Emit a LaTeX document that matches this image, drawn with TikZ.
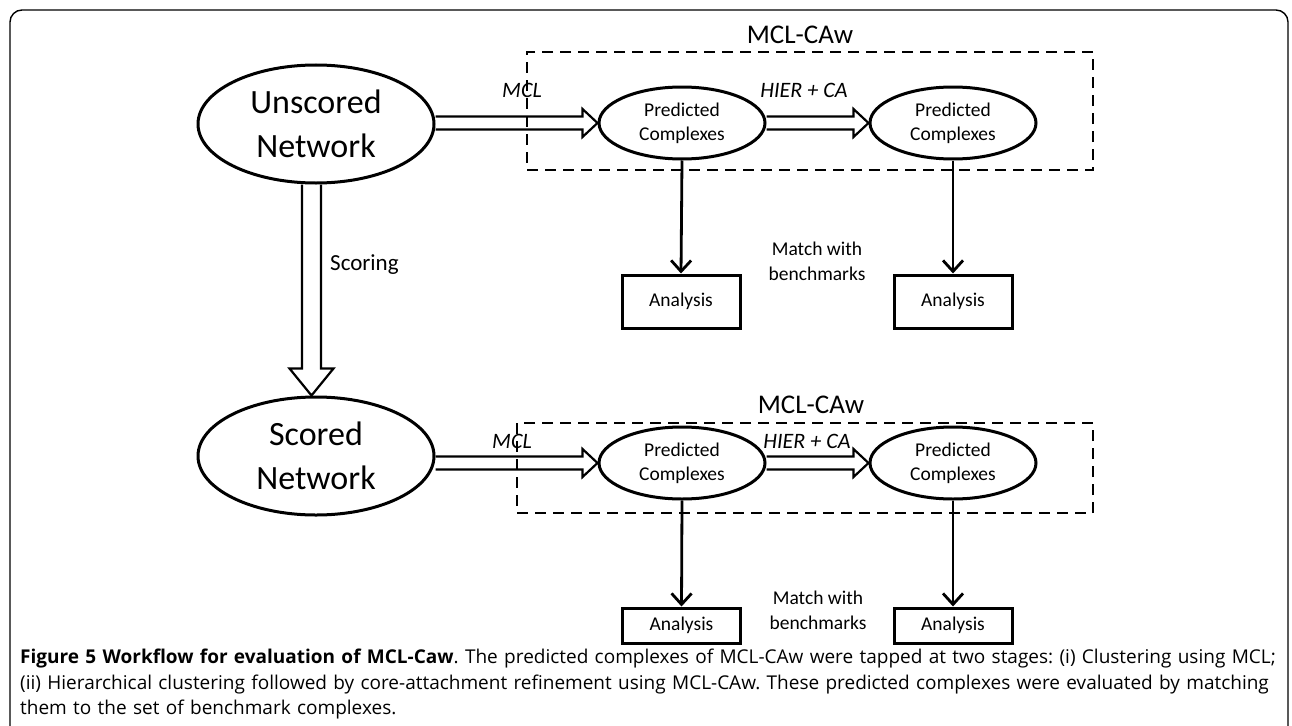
\documentclass[tikz,border=0pt]{standalone}
\usepackage{fontspec}
\setmainfont{Carlito}
\newfontfamily\capfont{Open Sans}
\usetikzlibrary{shapes.geometric,arrows.meta,calc}

\newcommand{\hollowH}[2]{%
  \draw[hollow] let \p1=(#1), \p2=(#2) in
    (\x1,\y2+6.5pt) -- (\x2-15pt,\y2+6.5pt) -- (\x2-15pt,\y2+14pt) -- (\x2,\y2)
    -- (\x2-15pt,\y2-14pt) -- (\x2-15pt,\y2-6.5pt) -- (\x1,\y2-6.5pt);}
\newcommand{\hollowV}[2]{%
  \draw[hollow] let \p1=(#1), \p2=(#2) in
    (\x1-14pt,\y1) -- (\x1-14pt,\y2+27pt) -- (\x1-26.5pt,\y2+27pt) -- (\x1-4.5pt,\y2)
    -- (\x1+17.5pt,\y2+27pt) -- (\x1+5pt,\y2+27pt) -- (\x1+5pt,\y1);}

\begin{document}
\begin{tikzpicture}[x=1pt,y=-1pt,
  bigell/.style={ellipse,draw,line width=3pt,minimum width=236pt,minimum height=118pt,
    inner sep=0pt,align=center,font=\fontsize{34}{44}\selectfont},
  predell/.style={ellipse,draw,line width=3pt,minimum width=166pt,minimum height=72pt,
    inner sep=0pt,align=center,font=\fontsize{19.5}{24}\selectfont},
  anbox/.style={draw,line width=3pt,minimum width=118pt,inner sep=0pt,
    font=\fontsize{19.5}{24}\selectfont},
  dbox/.style={draw,line width=2pt,dash pattern=on 11pt off 7pt,inner sep=0pt},
  sarrow/.style={line width=2.8pt,-{Straight Barb[length=11pt,width=20pt]}},
  hollow/.style={line width=2.2pt,line join=miter},
  itlbl/.style={inner sep=0pt,font=\itshape\fontsize{22}{26}\selectfont},
  grp/.style={inner sep=0pt,font=\fontsize{27}{32}\selectfont},
  note/.style={inner sep=0pt,align=center,font=\fontsize{19.5}{25}\selectfont}
]
\useasboundingbox (0,0) rectangle (1292,725);

% outer frame
\draw[line width=1.4pt,rounded corners=12pt] (10,730) -- (10,10) -- (1288,10) -- (1288,730);

% dashed group boxes
\node[dbox,minimum width=566pt,minimum height=118pt] (g1) at (810,111) {};
\node[dbox,minimum width=576pt,minimum height=90pt] (g2) at (805,468) {};
\node[grp] (g1l) at (800,35) {MCL-CAw};
\node[grp] (g2l) at (811,405) {MCL-CAw};

% main ellipses
\node[bigell] (un) at (316,124) {Unscored\\Network};
\node[bigell] (sc) at (316,456) {Scored\\Network};

% predicted complexes
\node[predell] (p1) at (682,123) {Predicted\\Complexes};
\node[predell] (p2) at (953,123) {Predicted\\Complexes};
\node[predell] (p3) at (682,463) {Predicted\\Complexes};
\node[predell] (p4) at (953,463) {Predicted\\Complexes};

% analysis boxes
\node[anbox,minimum height=53pt] (a1) at (681,301.5) {Analysis};
\node[anbox,minimum height=53pt] (a2) at (953,301.5) {Analysis};
\node[anbox,minimum height=35pt] (a3) at (681.5,625.5) {Analysis};
\node[anbox,minimum height=35pt] (a4) at (953,625.5) {Analysis};

% labels
\node[itlbl] (m1) at (522,90) {MCL};
\node[itlbl] (h1) at (804,90) {HIER + CA};
\node[itlbl] (m2) at (512,441) {MCL};
\node[itlbl] (h2) at (807,441) {HIER + CA};
\node[inner sep=0pt,anchor=west,font=\fontsize{23}{27}\selectfont] (scl) at (330,265) {Scoring};
\node[note] (b1) at (817,261) {Match with\\benchmarks};
\node[note] (b2) at (818,610) {Match with\\benchmarks};

% hollow arrows
\hollowH{un.east}{p1.west}
\hollowH{p1.east}{p2.west}
\hollowH{sc.east}{p3.west}
\hollowH{p3.east}{p4.west}
\hollowV{un.south}{sc.north}

% analysis arrows
\draw[sarrow] (p1.south) -- (a1.north);
\draw[sarrow] (p2.south) -- (a2.north);
\draw[sarrow] (p3.south) -- (a3.north);
\draw[sarrow] (p4.south) -- (a4.north);

% caption
\node[anchor=north west,inner sep=0pt,text width=1300pt,align=left,
  font=\capfont\fontsize{19}{25.5}\selectfont\frenchspacing] (cap) at (20,649)
  {\textbf{Figure 5 Workflow for evaluation of MCL-Caw}. The predicted complexes of MCL-CAw were tapped at two stages: (i) Clustering using MCL;\\
  (ii) Hierarchical clustering followed by core-attachment refinement using MCL-CAw. These predicted complexes were evaluated by matching\\
  them to the set of benchmark complexes.};
\end{tikzpicture}
\end{document}
